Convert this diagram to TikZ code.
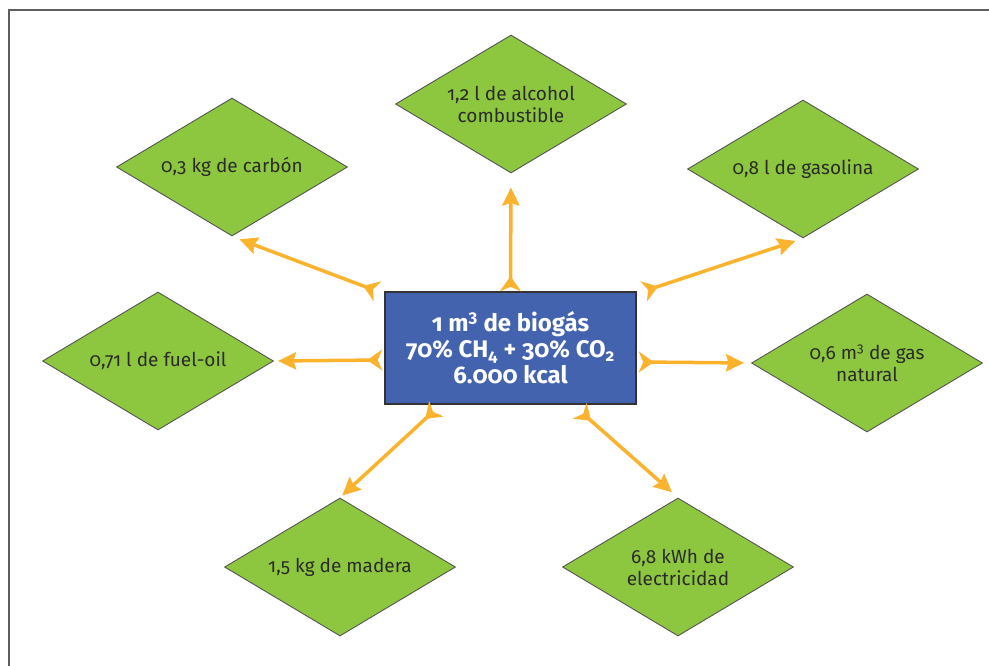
\documentclass[tikz,border=0pt]{standalone}
\usepackage{fontspec}
\setmainfont{Fira Sans}[Numbers=OldStyle]
\usetikzlibrary{shapes.geometric,arrows.meta,calc}
\definecolor{dgreen}{HTML}{8DC63F}
\definecolor{dblue}{HTML}{4463AF}
\definecolor{dorange}{HTML}{FBB22C}
\definecolor{dtext}{HTML}{2B2B2B}
\definecolor{dframe}{HTML}{5E5E5E}
\tikzset{
  prod/.style={diamond, draw=dtext!80, line width=0.9pt, fill=dgreen, inner sep=0pt,
    shape aspect=1.67, minimum width=231pt, minimum height=138pt,
    text=dtext, font=\fontsize{19}{22}\selectfont, align=center},
  source/.style={rectangle, draw=black!80, line width=1.5pt, fill=dblue, text=white,
    minimum width=251pt, minimum height=112pt, inner sep=0pt, align=center,
    font=\fontsize{24}{26}\selectfont\bfseries},
  arr/.style={draw=dorange, line width=3.5pt,
    {Stealth[reversed,length=15pt,width=21pt,inset=4.5pt]}-{Stealth[length=18pt,width=17pt,inset=2.5pt]}}
}
\begin{document}
\begin{tikzpicture}[x=1pt,y=1pt]
\useasboundingbox (0,0) rectangle (989,-665);
\draw[dframe, line width=2.5pt] (9,-700) -- (9,-10) -- (1000,-10);
\node[source] (box) at (510.5,-348) {1 m\textsuperscript{3} de biogás\\70\% CH\textsubscript{4} + 30\% CO\textsubscript{2}\\6.000 kcal};
\node[prod] (alcohol) at (511,-104) {1,2 l de alcohol\\combustible};
\node[prod] (gasolina) at (803,-169) {0,8 l de gasolina};
\node[prod] (carbon) at (232,-167) {0,3 kg de carbón};
\node[prod] (fuel) at (158,-361) {0,71 l de fuel-oil};
\node[prod] (gas) at (867,-363) {0,6 m\textsuperscript{3} de gas\\natural};
\node[prod] (madera) at (340,-567) {1,5 kg de madera};
\node[prod] (elec) at (678,-567) {6,8 kWh de\\electricidad};
\draw[arr, shorten >=14pt] (box.north) -- (alcohol.south);
\draw[arr, shorten >=8pt] ($(box.north west)+(-7,0)$) -- (carbon.south);
\draw[arr, shorten >=8pt] ($(box.north east)+(7,0)$) -- (gasolina.south);
\draw[arr, shorten >=4pt] ($(box.west)+(-2,-12)$) -- (fuel.east);
\draw[arr, shorten >=7pt] ($(box.east)+(2,-14)$) -- (gas.west);
\draw[arr, shorten >=3pt] ($(box.south west)+(52,-4)$) -- (madera.north);
\draw[arr, shorten >=8pt] ($(box.south east)+(-57,-6)$) -- (elec.north);
\end{tikzpicture}
\end{document}
